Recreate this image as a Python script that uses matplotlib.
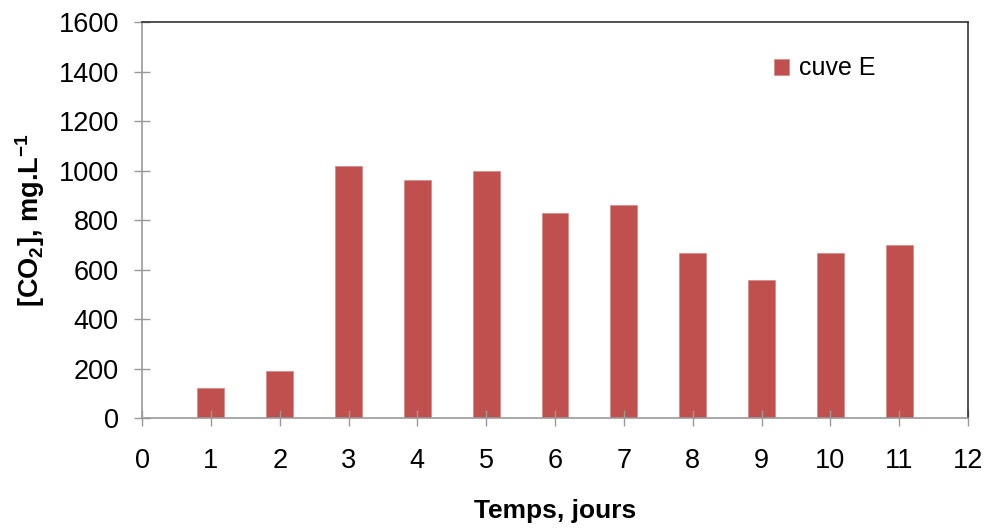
import matplotlib
matplotlib.use('Agg')
import matplotlib.pyplot as plt

plt.rcParams['font.family'] = ['Liberation Sans', 'DejaVu Sans']
plt.rcParams['mathtext.fontset'] = 'custom'
plt.rcParams['mathtext.rm'] = 'Liberation Sans'
plt.rcParams['mathtext.bf'] = 'Liberation Sans:bold'
plt.rcParams['mathtext.it'] = 'Liberation Sans:italic'

# data
jours = [1, 2, 3, 4, 5, 6, 7, 8, 9, 10, 11]
co2 = [120, 190, 1020, 960, 1000, 830, 862, 667, 558, 667, 698]
serie = 'cuve E'

fig = plt.figure(figsize=(9.89, 5.28), dpi=100)
ax = fig.add_axes([0.1436, 0.2083, 0.8352, 0.7500])

ax.bar(jours, co2, width=0.39, color='#C0504D', edgecolor='#D98C8A', linewidth=0.6, label=serie)

ax.set_xlim(0, 12)
ax.set_ylim(0, 1600)
ax.set_xticks(range(0, 13))
ax.set_yticks(range(0, 1601, 200))

ax.tick_params(direction='inout', length=11.5, width=1, color='#999999',
               labelsize=19.5, labelcolor='black')
ax.tick_params(axis='y', pad=11)
ax.tick_params(axis='x', pad=16)

ax.spines['left'].set_color('#999999')
ax.spines['bottom'].set_color('#999999')
ax.spines['top'].set_color('#333333')
ax.spines['right'].set_color('#333333')
for s in ax.spines.values():
    s.set_linewidth(1.2)

ax.set_xlabel('Temps, jours', fontsize=19, fontweight='bold', labelpad=18)
ax.set_ylabel(r'[CO$_\mathbf{2}$], mg.L$^\mathbf{-1}$', fontsize=19.5,
              fontweight='bold', labelpad=8)

ax.legend(loc='upper left', bbox_to_anchor=(0.738, 0.97), frameon=False,
          fontsize=18, handlelength=0.6, handleheight=0.6, handletextpad=0.4)

fig.savefig('out.png', dpi=100)
